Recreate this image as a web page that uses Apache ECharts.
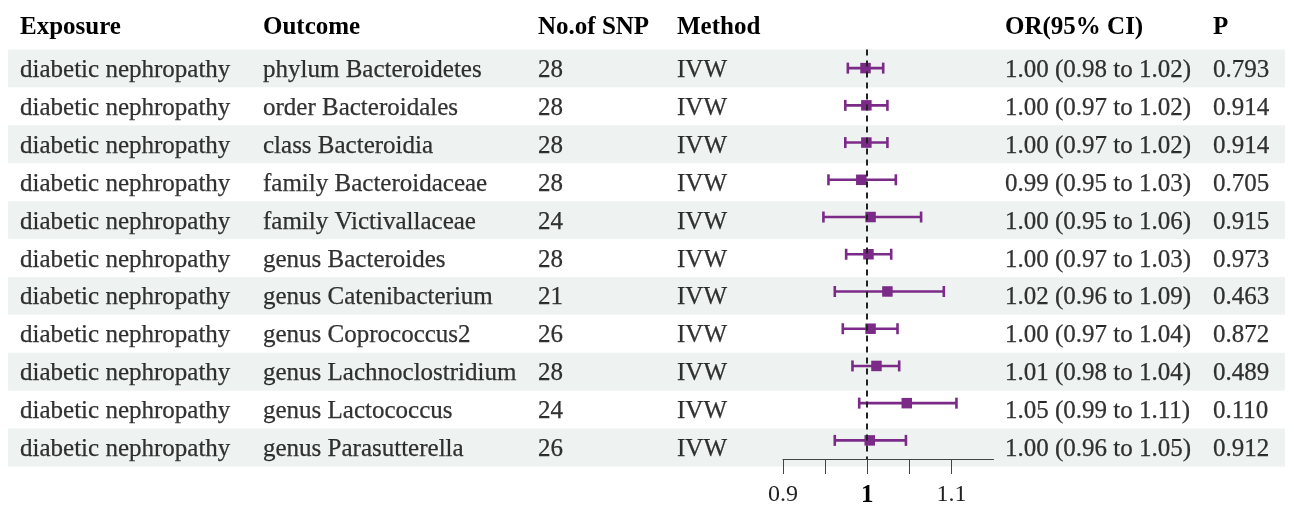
<!DOCTYPE html>
<html><head><meta charset="utf-8">
<script src="https://cdn.jsdelivr.net/npm/echarts@6/dist/echarts.min.js"></script>
<style>html,body{margin:0;padding:0;background:#fff}#c{width:1294px;height:508px}</style>
</head><body><div id="c"></div>
<script>
const headers = ['Exposure','Outcome','No.of SNP','Method','OR(95% CI)','P'];
const exposure = ['diabetic nephropathy','diabetic nephropathy','diabetic nephropathy','diabetic nephropathy','diabetic nephropathy','diabetic nephropathy','diabetic nephropathy','diabetic nephropathy','diabetic nephropathy','diabetic nephropathy','diabetic nephropathy'];
const outcome = ['phylum Bacteroidetes','order Bacteroidales','class Bacteroidia','family Bacteroidaceae','family Victivallaceae','genus Bacteroides','genus Catenibacterium','genus Coprococcus2','genus Lachnoclostridium','genus Lactococcus','genus Parasutterella'];
const nsnp = [28,28,28,28,24,28,21,26,28,24,26];
const method = ['IVW','IVW','IVW','IVW','IVW','IVW','IVW','IVW','IVW','IVW','IVW'];
const orText = ['1.00 (0.98 to 1.02)','1.00 (0.97 to 1.02)','1.00 (0.97 to 1.02)','0.99 (0.95 to 1.03)','1.00 (0.95 to 1.06)','1.00 (0.97 to 1.03)','1.02 (0.96 to 1.09)','1.00 (0.97 to 1.04)','1.01 (0.98 to 1.04)','1.05 (0.99 to 1.11)','1.00 (0.96 to 1.05)'];
const pText = ['0.793','0.914','0.914','0.705','0.915','0.973','0.463','0.872','0.489','0.110','0.912'];
const orVal = [0.998,0.999,0.999,0.993,1.004,1.0015,1.024,1.004,1.011,1.047,1.003];
const ciLo = [0.977,0.974,0.974,0.954,0.948,0.975,0.9615,0.971,0.9825,0.9905,0.9615];
const ciHi = [1.019,1.024,1.024,1.034,1.064,1.0285,1.091,1.036,1.038,1.106,1.046];
const axisTicks = [0.9,0.95,1,1.05,1.1];
const axisLabels = [0.9,1,1.1];

const FONT = '"Liberation Serif","DejaVu Serif",serif';
const PURPLE = '#7B2B87';
const colX = [20,263,538,677,1005,1213];
const columns = [exposure, outcome, nsnp, method, orText, pText];

const chart = echarts.init(document.getElementById('c'), null, {renderer:'canvas'});

const textSeries = columns.map((col, ci) => ({
  type:'scatter', xAxisIndex:0, yAxisIndex:0, symbolSize:0, silent:true,
  data: col.map((v,i)=>[colX[ci], i, String(v)]),
  label:{show:true, position:'right', distance:0, offset:[0,2], formatter:p=>p.data[2],
    fontFamily:FONT, fontSize:25, color:'#000', textBorderColor:'#000', textBorderWidth:0.25}
}));

const option = {
  animation:false,
  graphic: headers.map((h,i)=>({type:'text', left:colX[i], top:15,
    style:{text:h, font:'bold 25px '+FONT, fill:'#000'}})),
  grid:[
    {left:8, top:49.5, width:1277, height:417, containLabel:false},
    {left:783, top:49.5, width:210.5, height:417, containLabel:false}
  ],
  xAxis:[
    {gridIndex:0, type:'value', min:8, max:1285, show:false},
    {gridIndex:1, type:'value', min:0.9, max:1.15, interval:0.05,
      axisLine:{show:true, lineStyle:{color:'#444', width:1}},
      axisTick:{show:true, length:15, inside:false, customValues:axisTicks, lineStyle:{color:'#444', width:1}},
      axisLabel:{show:true, customValues:axisLabels, margin:24, fontFamily:FONT, fontSize:24, color:'#222',
        formatter:v=> v===1 ? '{b|1}' : String(v),
        rich:{b:{fontFamily:FONT, fontSize:25, fontWeight:'bold', color:'#000'}}},
      splitLine:{show:false}}
  ],
  yAxis:[
    {gridIndex:0, type:'category', inverse:true, data:outcome, boundaryGap:true,
      axisLine:{show:false}, axisTick:{show:false}, axisLabel:{show:false}, splitLine:{show:false},
      splitArea:{show:true, areaStyle:{color:['#EEF2F1','#FFFFFF']}}},
    {gridIndex:1, type:'category', inverse:true, data:outcome, boundaryGap:true,
      axisLine:{show:false}, axisTick:{show:false}, axisLabel:{show:false}, splitLine:{show:false}}
  ],
  series:[
    ...textSeries,
    {
      type:'custom', xAxisIndex:1, yAxisIndex:1, silent:true,
      data: orVal.map((v,i)=>[i, ciLo[i], ciHi[i], v]),
      encode:{x:[1,2,3], y:0},
      renderItem:(params, api)=>{
        const r = api.value(0);
        const a = api.coord([api.value(1), r]);
        const b = api.coord([api.value(2), r]);
        const m = api.coord([api.value(3), r]);
        const cap = 5.5, sq = 10.5;
        const st = {stroke:PURPLE, lineWidth:2.6};
        return {type:'group', children:[
          {type:'line', shape:{x1:a[0], y1:a[1], x2:b[0], y2:b[1]}, style:st},
          {type:'line', shape:{x1:a[0], y1:a[1]-cap, x2:a[0], y2:a[1]+cap}, style:st},
          {type:'line', shape:{x1:b[0], y1:b[1]-cap, x2:b[0], y2:b[1]+cap}, style:st},
          {type:'rect', shape:{x:m[0]-sq/2, y:m[1]-sq/2, width:sq, height:sq}, style:{fill:PURPLE}}
        ]};
      },
      markLine:{silent:true, symbol:'none', label:{show:false},
        lineStyle:{color:'#222', type:[6,5], width:2},
        data:[{xAxis:1}]},
      z:3
    }
  ]
};
chart.setOption(option);
</script></body></html>
